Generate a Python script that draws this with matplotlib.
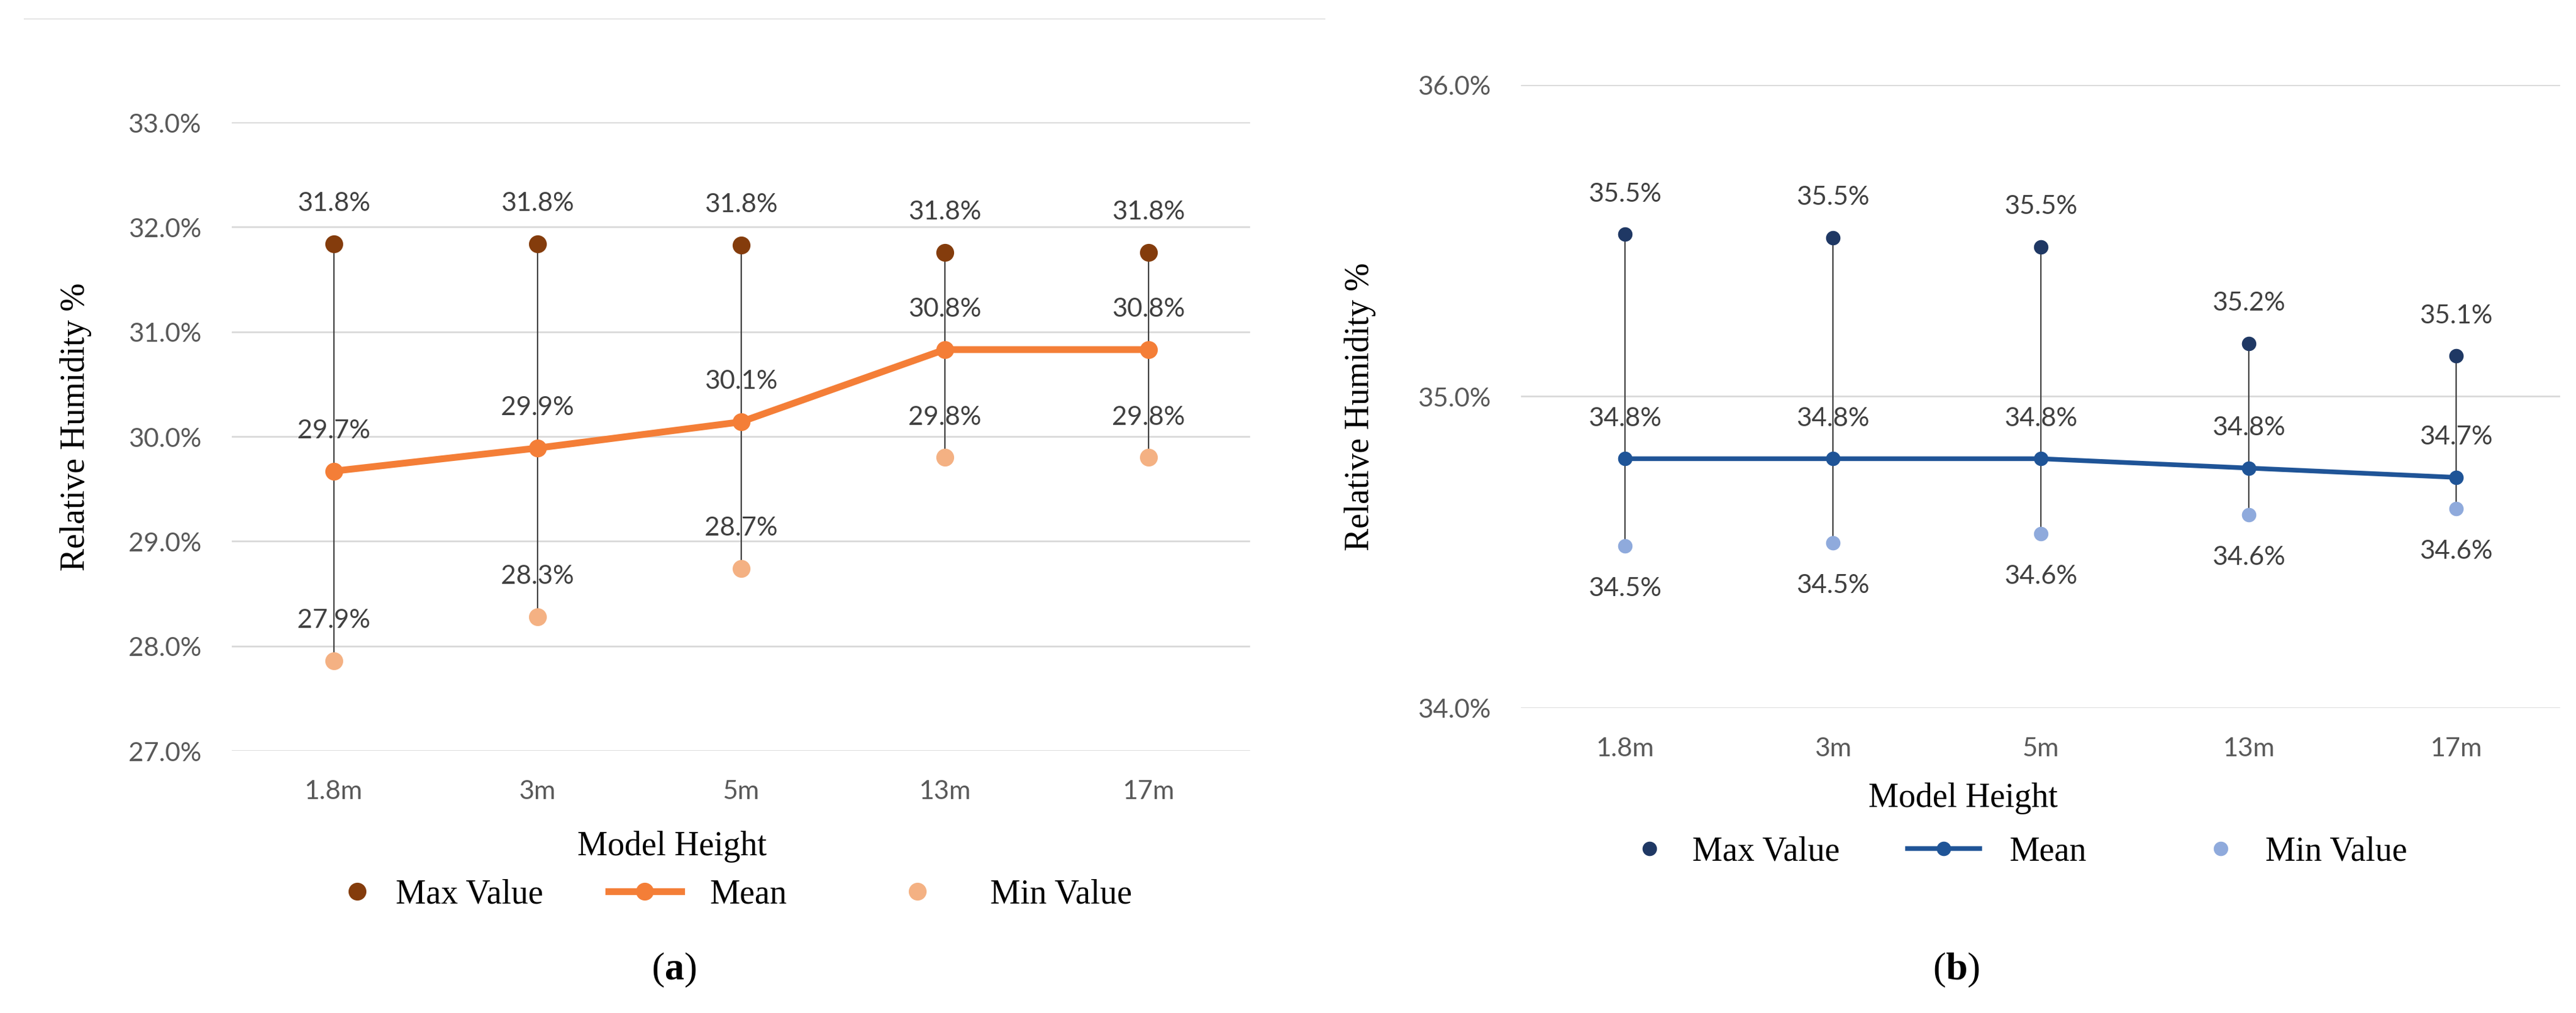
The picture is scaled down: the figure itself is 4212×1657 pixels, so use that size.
import matplotlib
matplotlib.use('Agg')
from matplotlib import pyplot as plt
from matplotlib.lines import Line2D

plt.rcParams['mathtext.fontset'] = 'custom'
plt.rcParams['mathtext.rm'] = 'Liberation Serif'
plt.rcParams['mathtext.bf'] = 'Liberation Serif:bold'

heights = ['1.8m', '3m', '5m', '13m', '17m']
series_names = ['Max Value', 'Mean', 'Min Value']

# panel (a)
max_a = [31.84, 31.84, 31.83, 31.76, 31.76]
mean_a = [29.67, 29.89, 30.14, 30.83, 30.83]
min_a = [27.86, 28.28, 28.74, 29.80, 29.80]
yticks_a = [27, 28, 29, 30, 31, 32, 33]

# panel (b)
max_b = [35.52, 35.51, 35.48, 35.17, 35.13]
mean_b = [34.80, 34.80, 34.80, 34.77, 34.74]
min_b = [34.52, 34.53, 34.56, 34.62, 34.64]
yticks_b = [34, 35, 36]

W, H = 4212, 1658
tick_font = 'Lato'
serif = 'Liberation Serif'
grid_c = '#D9D9D9'
tick_c = '#595959'
lab_c = '#404040'
LEG_FS = 40
EM = LEG_FS / 72 * 100  # legend font em in pixels

fig = plt.figure(figsize=(W / 100, H / 100), dpi=100)
ax1 = fig.add_axes([0.0900, 0.2587, 0.3953, 0.6200])
ax2 = fig.add_axes([0.5905, 0.3010, 0.4034, 0.6146])


def draw(ax, mx, mn, me, yt, cols, msize, lw, min_below, xl, yl):
    x = range(len(heights))
    ax.vlines(x, mn, mx, color='#404040', linewidth=1.6, zorder=2)
    ax.plot(x, mx, 'o', color=cols[0], markersize=msize, zorder=4)
    ax.plot(x, me, '-o', color=cols[1], markersize=msize, linewidth=lw, zorder=3)
    ax.plot(x, mn, 'o', color=cols[2], markersize=msize, zorder=4)
    for i in x:
        for v, off in [(mx[i], 48), (me[i], 48), (mn[i], -50 if min_below else 48)]:
            ax.annotate('{:.1f}%'.format(v), (i, v), xytext=(0, off), textcoords='offset points',
                        ha='center', va='center', fontsize=31, family=tick_font, color=lab_c)
    ax.set_xlim(-0.5, len(heights) - 0.5)
    ax.set_ylim(yt[0], yt[-1])
    ax.set_yticks(yt)
    ax.set_yticklabels(['{:.1f}%'.format(v) for v in yt])
    ax.set_xticks(list(x))
    ax.set_xticklabels(heights)
    ax.grid(axis='y', color=grid_c, linewidth=2.0)
    ax.set_axisbelow(True)
    for s in ax.spines.values():
        s.set_visible(False)
    ax.tick_params(length=0, labelsize=31, labelcolor=tick_c)
    ax.tick_params(axis='y', pad=36)
    ax.tick_params(axis='x', pad=34)
    for t in ax.get_xticklabels() + ax.get_yticklabels():
        t.set_family(tick_font)
    ax.set_xlabel('Model Height', family=serif, fontsize=40)
    ax.xaxis.set_label_coords(xl[0], xl[1])
    ax.xaxis.label.set_va('center')
    ax.set_ylabel('Relative Humidity %', family=serif, fontsize=40)
    ax.yaxis.set_label_coords(yl[0], yl[1])
    ax.yaxis.label.set_va('center')


cols_a = ['#843C0C', '#F47E37', '#F4B183']
cols_b = ['#1F3864', '#1F5497', '#8FAADC']
draw(ax1, max_a, min_a, mean_a, yticks_a, cols_a, 20, 8, False, (0.432, -0.152), (-0.153, 0.5165))
draw(ax2, max_b, min_b, mean_b, yticks_b, cols_b, 16, 5.5, True, (0.4255, -0.144), (-0.155, 0.484))


def legend(cols, msize, lw, y_px, slots):
    # slots: (handle left px, handle length em, text pad em) per entry
    hs = [Line2D([], [], marker='o', linestyle='none', color=cols[0], markersize=msize),
          Line2D([], [], marker='o', color=cols[1], markersize=msize, linewidth=lw),
          Line2D([], [], marker='o', linestyle='none', color=cols[2], markersize=msize)]
    for h, name, (left, hl, pad) in zip(hs, series_names, slots):
        fig.legend([h], [name], loc='center left', bbox_to_anchor=(left / W, 1 - y_px / H),
                   frameon=False, prop={'family': serif, 'size': LEG_FS}, handlelength=hl,
                   handletextpad=pad, borderpad=0, borderaxespad=0)


legend(cols_a, 20, 8, 1464, [(556, 1.0, 0.63), (995, 2.14, 0.83), (1472, 1.0, 1.64)])
legend(cols_b, 16, 5.5, 1394, [(2669, 1.0, 0.76), (3119, 2.12, 0.88), (3603, 1.0, 0.81)])

fig.text(1102 / W, 1 - 1587 / H, r'($\mathbf{a}$)', family=serif, fontsize=46, ha='center', va='center')
fig.text(3199 / W, 1 - 1587 / H, r'($\mathbf{b}$)', family=serif, fontsize=46, ha='center', va='center')

fig.add_artist(Line2D([40 / W, 2166 / W], [1 - 32 / H, 1 - 32 / H],
                      color='#E6E6E6', linewidth=1.5, transform=fig.transFigure))

fig.savefig('out.png', dpi=100)
